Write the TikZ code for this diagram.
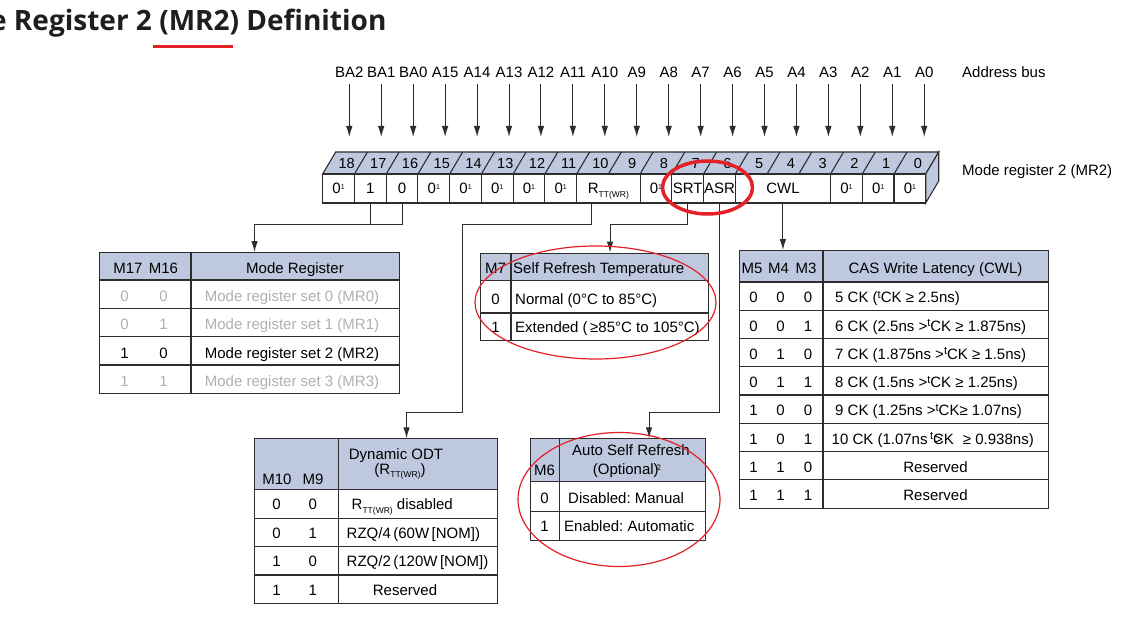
\documentclass[tikz,border=0pt]{standalone}
\usepackage{fontspec}
\setmainfont{Liberation Sans}
\newfontfamily\titlefont{Open Sans}
\usetikzlibrary{arrows.meta,positioning,calc}
\definecolor{hdrBlue}{RGB}{190,200,222}
\definecolor{lineGray}{RGB}{45,45,45}
\definecolor{dimGray}{RGB}{176,176,176}
\definecolor{markRed}{RGB}{228,32,40}
\definecolor{titleInk}{RGB}{30,30,30}
\frenchspacing
\newcommand{\zo}{0\raisebox{4pt}{\fontsize{7}{7}\selectfont 1}}
\newcommand{\rttwr}{R\raisebox{-3.5pt}{\fontsize{8.5}{8.5}\selectfont TT(WR)}}
\newcommand{\tsup}{\raisebox{4.5pt}{\fontsize{11}{11}\selectfont t}}
\newcommand{\tck}{\tsup CK}

\begin{document}
\begin{tikzpicture}[x=1pt, y=-1pt, font=\fontsize{15}{18}\selectfont,
    txt/.style={inner sep=0pt, text height=10.7pt, text depth=0pt},
    cell/.style={draw=lineGray, line width=1.1pt, fill=white, inner sep=0pt,
      minimum height=29pt, text height=10.7pt, text depth=0pt},
    tabframe/.style={draw=lineGray, line width=1.1pt, inner sep=0pt, anchor=north west},
    tabline/.style={draw=lineGray, line width=1.1pt},
    link/.style={draw=lineGray, line width=1pt},
    linkarrow/.style={link, -{Latex[length=11pt,width=6.5pt]}},
    redmark/.style={draw=markRed, line width=1.2pt}]
    \path[use as bounding box, fill=white] (0,0) rectangle (1133,623);

    % Title with red underline under (MR2)
    \node[anchor=base west, inner sep=0pt, text=titleInk,
      font=\titlefont\bfseries\fontsize{28}{31}\selectfont] (title) at (-10,31) {e Register 2 (MR2) Definition};
    \draw[markRed, line width=2.8pt] (153,46.5) -- (233,46.5);

    % Register body: top face, right side and slanted dividers
    \def\xo{322.7} \def\wc{31.74} \def\xr{925.7}
    \filldraw[fill=hdrBlue, draw=lineGray, line width=1.1pt]
      (\xo,174) -- ++(13,-22) -- ({\xr+13},152) -- (\xr,174) -- cycle;
    \filldraw[fill=hdrBlue, draw=lineGray, line width=1.1pt]
      (\xr,174) -- ++(13,-22) -- ++(0,29) -- (\xr,203) -- cycle;
    \foreach \k in {1,...,18}
      \draw[tabline] ({\xo+\k*\wc},174) -- ++(13,-22);
    % Bit numbers on the top face
    \foreach \bit in {0,...,18}
      \node[txt, font=\fontsize{14.5}{15}\selectfont] (num\bit) at ({\xo+(18.5-\bit)*\wc+8},163.5) {\bit};
    % Field cells on the front face
    \foreach \bit/\wid/\ctext/\cname in {18/1/\zo/c18, 17/1/1/c17, 16/1/0/c16, 15/1/\zo/c15,
        14/1/\zo/c14, 13/1/\zo/c13, 12/1/\zo/c12, 11/1/\zo/c11, 10/2/\rttwr/crtt, 8/1/\zo/c8,
        7/1/SRT/csrt, 6/1/ASR/casr, 5/3/CWL/ccwl, 2/1/\zo/c2, 1/1/\zo/c1, 0/1/\zo/c0}
      \node[cell, minimum width=\wid*\wc*1pt] (\cname) at ({\xo+(18-\bit+\wid/2)*\wc},188.5) {\ctext};

    % Address bus labels and arrows
    \foreach \bit/\bname in {18/BA2,17/BA1,16/BA0,15/A15,14/A14,13/A13,12/A12,11/A11,10/A10,
        9/A9,8/A8,7/A7,6/A6,5/A5,4/A4,3/A3,2/A2,1/A1,0/A0} {
      \node[txt, anchor=base] (bus\bit) at ({349.3+(18-\bit)*31.94},77.5) {\bname};
      \coordinate (in\bit) at ({349.3+(18-\bit)*31.94},137);
      \draw[linkarrow] ([yshift=-6.5pt]bus\bit.base) -- (in\bit);
    }
    \node[txt, anchor=base west] (busname) at (962,77.5) {Address bus};
    \node[txt, anchor=base west] (regname) at (962,175.5) {Mode register 2 (MR2)};

    % Mode register table (M17, M16)
    \fill[hdrBlue] (99,252) rectangle (399,280);
    \node[tabframe, minimum width=300pt, minimum height=141.3pt] (mrtab) at (99,252) {};
    \draw[tabline] (191,252) -- (191,393.3);
    \foreach \yy in {280,308.3,336.7,365}
      \draw[tabline] (99,\yy) -- (399,\yy);
    \node[txt] (mrh1) at (128,268) {M17};
    \node[txt] (mrh2) at (163.5,268) {M16};
    \node[txt] (mrh3) at (295,268) {Mode Register};
    \foreach \va/\vb/\vtext/\vcol [count=\row] in {0/0/Mode register set 0 (MR0)/dimGray,
        0/1/Mode register set 1 (MR1)/dimGray, 1/0/Mode register set 2 (MR2)/black,
        1/1/Mode register set 3 (MR3)/dimGray} {
      \node[txt, text=\vcol] (mr\row-a) at (124.5,{280+(\row-0.5)*28.33+2}) {\va};
      \node[txt, text=\vcol] (mr\row-b) at (163.5,{280+(\row-0.5)*28.33+2}) {\vb};
      \node[txt, text=\vcol] (mr\row-t) at (292,{280+(\row-0.5)*28.33+2}) {\vtext};
    }

    % Self refresh temperature table (M7)
    \fill[hdrBlue] (480,252.5) rectangle (708,280.5);
    \node[tabframe, minimum width=228pt, minimum height=87.5pt] (srttab) at (480,252.5) {};
    \draw[tabline] (511,252.5) -- (511,340);
    \draw[tabline] (480,280.5) -- (708,280.5);
    \draw[tabline] (480,313) -- (708,313);
    \node[txt] (srth1) at (495.5,268.5) {M7};
    \node[txt, anchor=west] (srth2) at (513,268.5) {Self Refresh Temperature};
    \node[txt] (srt0-a) at (495.5,299) {0};
    \node[txt, anchor=west] (srt0-b) at (515,299) {Normal (0°C to 85°C)};
    \node[txt] (srt1-a) at (495.5,327) {1};
    \node[txt, anchor=west] (srt1-b) at (515,327) {Extended (\,≥85°C to 105°C)};

    % CAS write latency table (M5, M4, M3)
    \fill[hdrBlue] (739,250) rectangle (1048,282);
    \node[tabframe, minimum width=309pt, minimum height=258pt] (cwltab) at (739,250) {};
    \draw[tabline] (823,250) -- (823,508);
    \foreach \k in {0,...,7}
      \draw[tabline] (739,{282+\k*28.25}) -- (1048,{282+\k*28.25});
    \node[txt] (cwlh1) at (752,268) {M5};
    \node[txt] (cwlh2) at (778.5,268) {M4};
    \node[txt] (cwlh3) at (806,268) {M3};
    \node[txt] (cwlh4) at (935.5,268) {CAS Write Latency (CWL)};
    \foreach \va/\vb/\vc [count=\row] in {0/0/0,0/0/1,0/1/0,0/1/1,1/0/0,1/0/1,1/1/0,1/1/1} {
      \node[txt] (cwl\row-a) at (753.5,{282+(\row-0.5)*28.25+1.5}) {\va};
      \node[txt] (cwl\row-b) at (780.5,{282+(\row-0.5)*28.25+1.5}) {\vb};
      \node[txt] (cwl\row-c) at (808,{282+(\row-0.5)*28.25+1.5}) {\vc};
    }
    \foreach \vtext [count=\row] in {{5 CK (\tck\ ≥ 2.5ns)}, {6 CK (2.5ns >\tck\ ≥ 1.875ns)},
        {7 CK (1.875ns >\tck\ ≥ 1.5ns)}, {8 CK (1.5ns >\tck\ ≥ 1.25ns)}, {9 CK (1.25ns >\tck≥ 1.07ns)}}
      \node[txt, anchor=west] (cwl\row-t) at (835,{282+(\row-0.5)*28.25+1.5}) {\vtext};
    \node[txt, anchor=west] (cwl6-t) at (831.5,{282+5.5*28.25+1.5})
      {10 CK (1.07ns\,\tsup\rlap{\kern1pt>}CK\hspace{9pt}≥ 0.938ns)};
    \node[txt] (cwl7-t) at (935.5,{282+6.5*28.25+1.5}) {Reserved};
    \node[txt] (cwl8-t) at (935.5,{282+7.5*28.25+1.5}) {Reserved};

    % Dynamic ODT table (M10, M9)
    \fill[hdrBlue] (254,438.3) rectangle (497,489.3);
    \node[tabframe, minimum width=243pt, minimum height=165pt] (odttab) at (254,438.3) {};
    \draw[tabline] (338.3,438.3) -- (338.3,603.3);
    \foreach \yy in {489.3,518.3,546.7,575}
      \draw[tabline] (254,\yy) -- (497,\yy);
    \node[txt] (odth1) at (277,479) {M10};
    \node[txt] (odth2) at (313,479) {M9};
    \node[txt] (odth3) at (396,454) {Dynamic ODT};
    \node[txt] (odth4) at (400,469) {(\rttwr)};
    \foreach \va/\vb [count=\row] in {0/0,0/1,1/0,1/1} {
      \node[txt] (odt\row-a) at (276.5,{489.3+(\row-0.5)*28.5+1}) {\va};
      \node[txt] (odt\row-b) at (312.7,{489.3+(\row-0.5)*28.5+1}) {\vb};
    }
    \node[txt, anchor=west] (odt1-t) at (351.5,{489.3+0.5*28.5+1}) {\rttwr\ disabled};
    \node[txt, anchor=west] (odt2-t) at (346.5,{489.3+1.5*28.5+1}) {RZQ/4\,(60W\,[NOM])};
    \node[txt, anchor=west] (odt3-t) at (346.5,{489.3+2.5*28.5+1}) {RZQ/2\,(120W\,[NOM])};
    \node[txt] (odt4-t) at (405,{489.3+3.5*28.5+1}) {Reserved};

    % Auto self refresh table (M6)
    \fill[hdrBlue] (530,438.3) rectangle (705,481.7);
    \node[tabframe, minimum width=175pt, minimum height=101.7pt] (asrtab) at (530,438.3) {};
    \draw[tabline] (559.3,438.3) -- (559.3,540);
    \draw[tabline] (530,481.7) -- (705,481.7);
    \draw[tabline] (530,511.7) -- (705,511.7);
    \node[txt] (asrh1) at (544.5,470) {M6};
    \node[txt] (asrh2) at (631,450) {Auto Self Refresh};
    \node[txt] (asrh3) at (627,469) {(Optional)\kern-2pt\raisebox{4pt}{\fontsize{8}{8}\selectfont 2}};
    \node[txt] (asr0-a) at (544.5,498) {0};
    \node[txt, anchor=west] (asr0-b) at (568,498) {Disabled: Manual};
    \node[txt] (asr1-a) at (544.5,526.5) {1};
    \node[txt, anchor=west] (asr1-b) at (564,526.5) {Enabled: Automatic};

    % Field connectors
    \coordinate (busA) at (0,224);
    \coordinate (busB) at (0,412);
    \coordinate (rttjog) at (462,224);
    \draw[link] (c17.south) -- (c17.south |- busA);
    \draw[linkarrow] (c16.south) -- (c16.south |- busA) -| ([xshift=5pt]mrtab.north);
    \draw[linkarrow] ([xshift=-16.5pt]crtt.south) |- (rttjog) -- (rttjog |- busB)
      -| ([xshift=30.5pt]odttab.north);
    \draw[linkarrow] (csrt.south) -- (csrt.south |- busA) -| ([xshift=15.5pt]srttab.north);
    \draw[linkarrow] (casr.south) -- (casr.south |- busB) -| ([xshift=31pt]asrtab.north);
    \draw[linkarrow] (ccwl.south) -- (ccwl.south |- cwltab.north);

    % Red highlight rings
    \draw[markRed, line width=3.5pt] (707.5,187.5) ellipse [x radius=45pt, y radius=26.5pt];
    \draw[redmark] (595.5,302.5) ellipse [x radius=120.5pt, y radius=56.5pt];
    \draw[redmark] (619,499.5) ellipse [x radius=101pt, y radius=67pt];
  \end{tikzpicture}
\end{document}
